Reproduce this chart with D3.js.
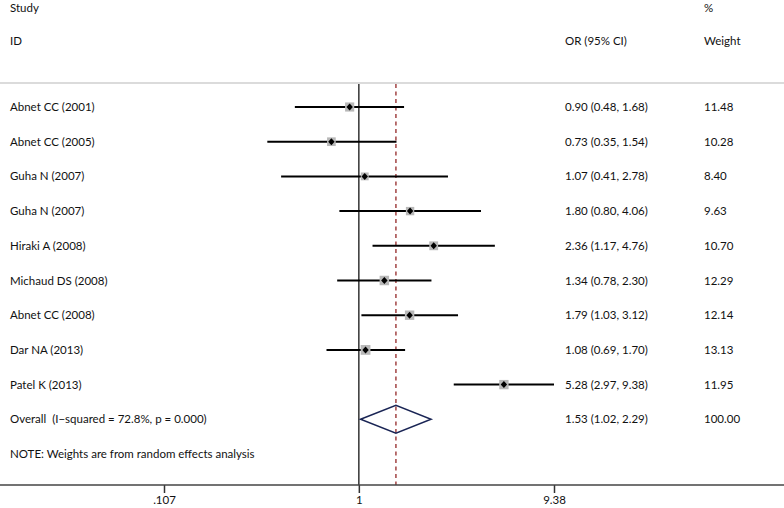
<!DOCTYPE html>
<html>
<head>
<meta charset="utf-8">
<script src="https://cdn.jsdelivr.net/npm/d3@7"></script>
<style>
  body { margin: 0; background: #fff; }
  text { font-family: Lato, "Noto Sans", sans-serif; font-size: 11.5px; fill: #111; white-space: pre; }
</style>
</head>
<body>
<div id="chart-area"></div>
<script>
// Forest plot data
var studies = ["Abnet CC (2001)", "Abnet CC (2005)", "Guha N (2007)", "Guha N (2007)",
  "Hiraki A (2008)", "Michaud DS (2008)", "Abnet CC (2008)", "Dar NA (2013)", "Patel K (2013)"];
var or = [0.90, 0.73, 1.07, 1.80, 2.36, 1.34, 1.79, 1.08, 5.28];
var lower = [0.48, 0.35, 0.41, 0.80, 1.17, 0.78, 1.03, 0.69, 2.97];
var upper = [1.68, 1.54, 2.78, 4.06, 4.76, 2.30, 3.12, 1.70, 9.38];
var weights = [11.48, 10.28, 8.40, 9.63, 10.70, 12.29, 12.14, 13.13, 11.95];
var overall = { label: "Overall  (I\u2212squared = 72.8%, p = 0.000)", or: 1.53, lower: 1.02, upper: 2.29, weight: 100.00 };
var tickValues = [0.107, 1, 9.38];
var tickLabels = [".107", "1", "9.38"];

var width = 784, height = 508;
var svg = d3.select("#chart-area").append("svg")
    .attr("width", width)
    .attr("height", height);

// log scale, 1 centred at x=359
var x = d3.scaleLog()
    .domain([0.107, 9.38])
    .range([164, 554]);

// rows: studies, then overall, then note
var y = d3.scalePoint()
    .domain(d3.range(11))
    .range([107, 454]);

var axisY = 485;

// header
svg.append("text").attr("x", 10).attr("y", 8).attr("dy", "0.35em").text("Study");
svg.append("text").attr("x", 10).attr("y", 41).attr("dy", "0.35em").text("ID");
svg.append("text").attr("x", 565).attr("y", 41).attr("dy", "0.35em").text("OR (95% CI)");
svg.append("text").attr("x", 704).attr("y", 8).attr("dy", "0.35em").text("%");
svg.append("text").attr("x", 704).attr("y", 41).attr("dy", "0.35em").text("Weight");

svg.append("line")
    .attr("x1", 0).attr("x2", width)
    .attr("y1", 83).attr("y2", 83)
    .attr("stroke", "#cfcfcf").attr("stroke-width", 1.5);

// null line
svg.append("line")
    .attr("x1", x(1)).attr("x2", x(1))
    .attr("y1", 84).attr("y2", axisY)
    .attr("stroke", "#333").attr("stroke-width", 1.5);

// overall effect line
svg.append("line")
    .attr("x1", x(overall.or)).attr("x2", x(overall.or))
    .attr("y1", 84).attr("y2", axisY)
    .attr("stroke", "#a84f4f").attr("stroke-width", 1.6)
    .attr("stroke-dasharray", "4,3.5");

var fmt = d3.format(".2f");
var data = studies.map(function(s, i) {
  return { study: s, or: or[i], lower: lower[i], upper: upper[i], weight: weights[i], i: i };
});

var rows = svg.selectAll("g.row").data(data).enter()
  .append("g").attr("class", "row")
  .attr("transform", function(d){ return "translate(0," + y(d.i) + ")"; });

rows.append("line")
    .attr("x1", function(d){ return x(d.lower); })
    .attr("x2", function(d){ return x(d.upper); })
    .attr("stroke", "#000").attr("stroke-width", 2);

rows.append("rect")
    .attr("x", function(d){ return x(d.or) - Math.sqrt(d.weight) * 1.35; })
    .attr("y", function(d){ return -Math.sqrt(d.weight) * 1.35; })
    .attr("width", function(d){ return Math.sqrt(d.weight) * 2.7; })
    .attr("height", function(d){ return Math.sqrt(d.weight) * 2.7; })
    .attr("fill", "#b8b8b8");

rows.append("path")
    .attr("d", function(d){ var cx = x(d.or); return "M" + (cx - 3.2) + ",0L" + cx + ",-3.5L" + (cx + 3.2) + ",0L" + cx + ",3.5Z"; })
    .attr("fill", "#000");

rows.append("text").attr("x", 10).attr("dy", "0.35em").text(function(d){ return d.study; });
rows.append("text").attr("x", 565).attr("dy", "0.35em")
    .text(function(d){ return fmt(d.or) + " (" + fmt(d.lower) + ", " + fmt(d.upper) + ")"; });
rows.append("text").attr("x", 704).attr("dy", "0.35em").text(function(d){ return fmt(d.weight); });

// overall diamond
var oy = y(9);
svg.append("path")
    .attr("d", "M" + x(overall.lower) + "," + oy + "L" + x(overall.or) + "," + (oy - 14) +
      "L" + x(overall.upper) + "," + oy + "L" + x(overall.or) + "," + (oy + 14) + "Z")
    .attr("fill", "none").attr("stroke", "#1a2555").attr("stroke-width", 1.5);
svg.append("text").attr("x", 10).attr("y", oy).attr("dy", "0.35em").text(overall.label);
svg.append("text").attr("x", 565).attr("y", oy).attr("dy", "0.35em")
    .text(fmt(overall.or) + " (" + fmt(overall.lower) + ", " + fmt(overall.upper) + ")");
svg.append("text").attr("x", 704).attr("y", oy).attr("dy", "0.35em").text(fmt(overall.weight));

svg.append("text").attr("x", 10).attr("y", y(10)).attr("dy", "0.35em")
    .text("NOTE: Weights are from random effects analysis");

// x axis
var xAxis = d3.axisBottom(x)
    .tickValues(tickValues)
    .tickFormat(function(d, i){ return tickLabels[i]; })
    .tickSize(8)
    .tickPadding(3);
var ax = svg.append("g")
    .attr("transform", "translate(0," + axisY + ")")
    .call(xAxis);
ax.select(".domain").remove();
ax.selectAll(".tick line").attr("stroke", "#333").attr("stroke-width", 1.5);
ax.selectAll(".tick text").style("font-family", "Lato, sans-serif").style("font-size", "11.5px").attr("fill", "#111");
svg.append("line")
    .attr("x1", 0).attr("x2", width)
    .attr("y1", axisY).attr("y2", axisY)
    .attr("stroke", "#444").attr("stroke-width", 1.5);
</script>
</body>
</html>
